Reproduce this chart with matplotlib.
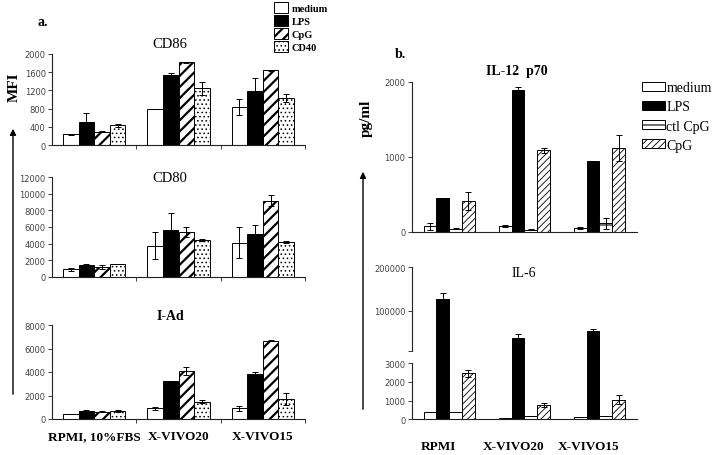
import numpy as np
import matplotlib
matplotlib.use("Agg")
import matplotlib.pyplot as plt
from matplotlib.patches import Patch, FancyArrowPatch
from matplotlib.transforms import ScaledTranslation

plt.rcParams['font.family'] = ['Liberation Serif', 'DejaVu Serif']
plt.rcParams['hatch.linewidth'] = 1.6

# ---------------- data ----------------
groups_a = ["RPMI, 10%FBS", "X-VIVO20", "X-VIVO15"]
treat_a = ["medium", "LPS", "CpG", "CD40"]

cd86_mean = [[235, 790, 830], [500, 1540, 1180], [290, 1820, 1645], [430, 1250, 1030]]
cd86_err = [[10, 8, 180], [200, 40, 295], [10, 10, 10], [25, 145, 80]]

cd80_mean = [[890, 3750, 4100], [1370, 5640, 5100], [1170, 5350, 9180], [1530, 4430, 4150]]
cd80_err = [[150, 1600, 1850], [160, 2050, 1170], [200, 600, 690], [40, 80, 120]]

iad_mean = [[420, 910, 910], [710, 3230, 3830], [620, 4080, 6670], [680, 1480, 1700]]
iad_err = [[20, 140, 200], [20, 20, 140], [20, 310, 20], [110, 110, 510]]

groups_b = ["RPMI", "X-VIVO20", "X-VIVO15"]
treat_b = ["medium", "LPS", "ctl CpG", "CpG"]

il12_mean = [[76, 76, 53], [453, 1898, 942], [44, 31, 116], [413, 1089, 1120]]
il12_err = [[48, 13, 14], [5, 35, 9], [9, 5, 75], [120, 31, 169]]

il6_mean = [[400, 70, 105], [127000, 37000, 53800], [370, 195, 160], [2450, 760, 1050]]
il6_err = [[0, 0, 0], [13000, 9000, 3000], [0, 0, 0], [195, 90, 250]]

# ---------------- figure ----------------
W, H = 713, 456
fig = plt.figure(figsize=(W / 100, H / 100), dpi=100)
fig.patch.set_facecolor('white')


def px_axes(l, t, r, b):
    return fig.add_axes([l / W, 1 - b / H, (r - l) / W, (b - t) / H])


def ftext(x, y, s, **kw):
    kw.setdefault('ha', 'center')
    kw.setdefault('va', 'center')
    return fig.text(x / W, 1 - y / H, s, **kw)


styles_a = [dict(facecolor='white'), dict(facecolor='black'),
            dict(facecolor='white', hatch='///'), dict(facecolor='white', hatch='....')]
styles_b = [dict(facecolor='white'), dict(facecolor='black'),
            dict(facecolor='white', hatch='-'), dict(facecolor='white', hatch='/////')]
hatch_lw_a = [1.0, 1.0, 1.6, 0.6]
hatch_lw_b = [1.0, 1.0, 0.8, 0.6]


def draw_bars(ax, means, errs, styles, hlw, width):
    x = np.arange(len(means[0]))
    n = len(means)
    for i, (m, e, st) in enumerate(zip(means, errs, styles)):
        off = (i - (n - 1) / 2) * width
        bars = ax.bar(x + off, m, width, edgecolor='black', linewidth=0.7, zorder=2, **st)
        for b in bars:
            if hasattr(b, 'set_hatch_linewidth'):
                b.set_hatch_linewidth(hlw[i])
        ax.errorbar(x + off, m, yerr=e, fmt='none', ecolor='black', elinewidth=0.7,
                    capsize=2.2, capthick=0.7, zorder=3)


def style_axes(ax):
    for s in ['top', 'right']:
        ax.spines[s].set_visible(False)
    for s in ['left', 'bottom']:
        ax.spines[s].set_color('#222222')
        ax.spines[s].set_linewidth(0.8)
    ax.set_xlim(-0.5, 2.5)
    ax.tick_params(axis='y', direction='out', length=3, width=0.6, labelsize=6,
                   pad=1.5, colors='#222222')
    ax.tick_params(axis='y', labelcolor='#444444')
    for lab in ax.get_yticklabels():
        lab.set_fontfamily('DejaVu Sans')


# ---- panel a ----
ax86 = px_axes(52, 55, 305, 146)
ax80 = px_axes(52, 178.3, 305, 277.7)
axIA = px_axes(52, 326, 305, 420)

for ax, mean, err, lim, step in [(ax86, cd86_mean, cd86_err, 2000, 400),
                                  (ax80, cd80_mean, cd80_err, 12000, 2000),
                                  (axIA, iad_mean, iad_err, 8000, 2000)]:
    draw_bars(ax, mean, err, styles_a, hatch_lw_a, 0.185)
    ax.set_ylim(0, lim)
    ax.set_yticks(np.arange(0, lim + 1, step))
    style_axes(ax)
    ax.set_xticks([0, 1, 2])
    ax.set_xticks([0.5, 1.5, 2.5], minor=True)
    ax.tick_params(axis='x', which='major', length=0)
    ax.tick_params(axis='x', which='minor', length=3, width=0.6, direction='out', colors='#222222')
    if ax is axIA:
        ax.set_xticklabels(groups_a, fontsize=9.5, fontweight='bold')
        ax.tick_params(axis='x', which='major', pad=8)
    else:
        ax.set_xticklabels([])

# ---- panel b ----
ax12 = px_axes(411.7, 83, 637, 233)
draw_bars(ax12, il12_mean, il12_err, styles_b, hatch_lw_b, 0.17)
ax12.set_ylim(0, 2000)
ax12.set_yticks([0, 1000, 2000])
style_axes(ax12)
ax12.set_xticks([])

# broken-looking axis for IL-6 via a piecewise linear scale
LOW_TOP, UP_BOT, TOP = 3000, 7700, 200000
S1, S2, S3 = 56.3, 12.3, 83.4


def fwd(y):
    y = np.asarray(y, dtype=float)
    return np.where(y <= LOW_TOP, y / LOW_TOP * S1,
                    np.where(y <= UP_BOT, S1 + (y - LOW_TOP) / (UP_BOT - LOW_TOP) * S2,
                             S1 + S2 + (y - UP_BOT) / (TOP - UP_BOT) * S3))


def inv(v):
    v = np.asarray(v, dtype=float)
    return np.where(v <= S1, v / S1 * LOW_TOP,
                    np.where(v <= S1 + S2, LOW_TOP + (v - S1) / S2 * (UP_BOT - LOW_TOP),
                             UP_BOT + (v - S1 - S2) / S3 * (TOP - UP_BOT)))


ax6 = px_axes(411.7, 268.3, 637, 420.3)
ax6.set_yscale('function', functions=(fwd, inv))
draw_bars(ax6, il6_mean, il6_err, styles_b, hatch_lw_b, 0.17)
ax6.set_ylim(0, TOP)
ax6.set_yticks([0, 1000, 2000, 3000, UP_BOT, 100000, 200000])
ax6.set_yticklabels(['0', '1000', '2000', '3000', '', '100000', '200000'])
style_axes(ax6)
ax6.spines['left'].set_visible(False)
yt = ax6.get_yaxis_transform()
ax6.plot([0, 0], [0, LOW_TOP], transform=yt, color='#222222', lw=0.8, clip_on=False)
ax6.plot([0, 0], [UP_BOT, TOP], transform=yt, color='#222222', lw=0.8, clip_on=False)
ax6.set_xticks([0, 1, 2])
ax6.set_xticklabels(groups_b, fontsize=9.5, fontweight='bold')
ax6.tick_params(axis='x', length=0, pad=15)
for lab in ax6.get_xticklabels():
    lab.set_transform(lab.get_transform() + ScaledTranslation(-11 / 100, 0, fig.dpi_scale_trans))

# ---------------- texts ----------------
ftext(170, 45, "CD86", fontsize=10.5)
ftext(170, 178, "CD80", fontsize=10.5)
ftext(170, 316, "I-Ad", fontsize=10, fontweight='bold')
ftext(517, 72, "IL-12  p70", fontsize=10, fontweight='bold')
ftext(524, 274, "IL-6", fontsize=10)
ftext(43, 22, "a.", fontsize=10, fontweight='bold')
ftext(400, 54, "b.", fontsize=10, fontweight='bold')
ftext(14, 87, "MFI", fontsize=11, fontweight='bold', rotation=90)
ftext(366, 118, "pg/ml", fontsize=11, fontweight='bold', rotation=90)

for (x, y0, y1) in [(13, 398, 127), (363, 413, 170)]:
    fig.add_artist(FancyArrowPatch((x / W, 1 - y0 / H), (x / W, 1 - y1 / H),
                                   transform=fig.transFigure, arrowstyle='-|>',
                                   mutation_scale=9, lw=1.0, color='black'))

# ---------------- legends ----------------
h_a = [Patch(edgecolor='black', linewidth=0.7, **st) for st in styles_a]
leg_a = fig.legend(h_a, treat_a, loc='upper left', bbox_to_anchor=(274 / W, 1 - 3 / H),
                   frameon=False, prop=dict(family='Liberation Serif', weight='bold', size=7.5),
                   handlelength=1.3, handleheight=1.3, handletextpad=0.4,
                   labelspacing=0.15, borderpad=0, borderaxespad=0)
h_b = [Patch(edgecolor='black', linewidth=0.7, **st) for st in styles_b]
leg_b = fig.legend(h_b, treat_b, loc='upper left', bbox_to_anchor=(642 / W, 1 - 82 / H),
                   frameon=False, prop=dict(family='Liberation Serif', size=10),
                   handlelength=1.65, handleheight=0.6, handletextpad=0.1,
                   labelspacing=0.45, borderpad=0, borderaxespad=0)
for leg, lws in [(leg_a, hatch_lw_a), (leg_b, hatch_lw_b)]:
    for p, lw in zip(leg.get_patches(), lws):
        if hasattr(p, 'set_hatch_linewidth'):
            p.set_hatch_linewidth(lw)

fig.savefig("out.png", dpi=100, facecolor='white')
